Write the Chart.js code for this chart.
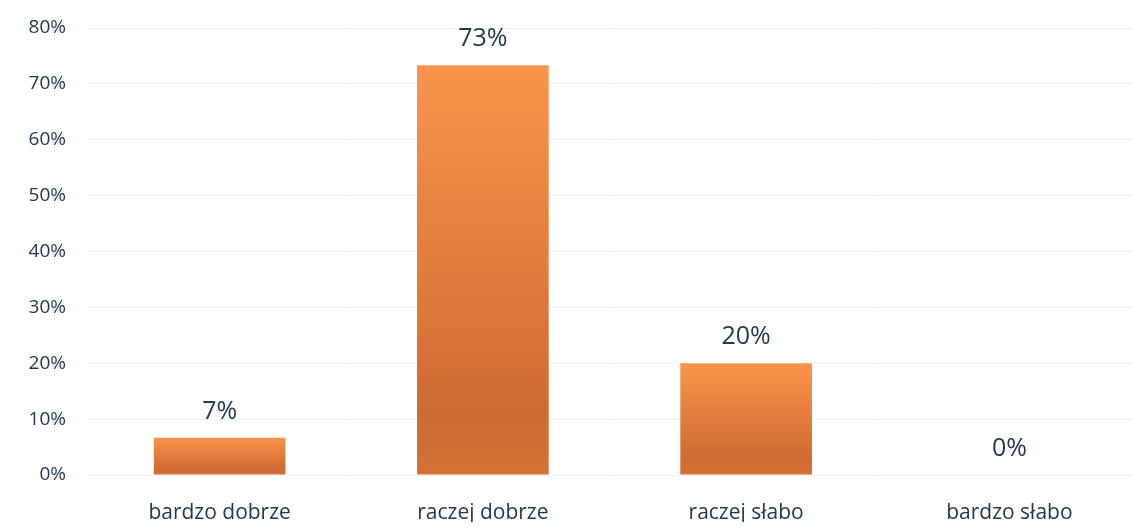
<!doctype html>
<html>

<head>
    <meta charset="utf-8">
    <title>Ocena</title>
    <script src="https://cdn.jsdelivr.net/npm/chart.js@4/dist/chart.umd.min.js"></script>
    <style>
    html, body { margin: 0; padding: 0; background: #fff; overflow: hidden; }
    </style>
</head>

<body>
    <canvas id="myChart" width="1141" height="531"></canvas>
    <script>
    // chart data
    var categories = ["bardzo dobrze", "raczej dobrze", "raczej słabo", "bardzo słabo"];
    var values = [6.67, 73.33, 20, 0];
    var valueLabels = ["7%", "73%", "20%", "0%"];
    var tickStep = 10;
    var yMax = 80;

    var textColor = '#223a52';

    // per-bar vertical gradient, light on top, darker at the bottom
    function barFill(context) {
        var chart = context.chart;
        if (!chart.chartArea) return '#f79646';
        var y = chart.scales.y;
        var v = context.raw || 0;
        var top = y.getPixelForValue(v);
        var bottom = y.getPixelForValue(0);
        if (bottom - top < 1) return '#f79646';
        var g = chart.ctx.createLinearGradient(0, top, 0, bottom);
        g.addColorStop(0, '#fa944c');
        g.addColorStop(0.5, '#e27b3c');
        g.addColorStop(0.85, '#cf6a31');
        g.addColorStop(1, '#d77236');
        return g;
    }

    // draw the percent labels above each bar
    var valueLabelPlugin = {
        id: 'valueLabels',
        afterDatasetsDraw: function(chart) {
            var ctx = chart.ctx;
            var meta = chart.getDatasetMeta(0);
            ctx.save();
            ctx.font = '25px "Open Sans", sans-serif';
            ctx.fillStyle = textColor;
            ctx.textAlign = 'center';
            ctx.textBaseline = 'middle';
            meta.data.forEach(function(bar, i) {
                ctx.fillText(valueLabels[i], bar.x, bar.y - 26);
            });
            ctx.restore();
        }
    };

    function drawGraph() {
        var ctx = document.getElementById('myChart').getContext('2d');
        var chart = new Chart(ctx, {
            type: 'bar',
            data: {
                labels: categories,
                datasets: [{
                    data: values,
                    backgroundColor: barFill,
                    borderWidth: 0,
                    barPercentage: 0.5,
                    categoryPercentage: 1.0
                }]
            },
            options: {
                responsive: false,
                animation: false,
                layout: { padding: { top: 28, bottom: 9, left: 0, right: 0 } },
                plugins: {
                    legend: { display: false },
                    tooltip: { enabled: false }
                },
                scales: {
                    x: {
                        grid: { display: false, drawTicks: false },
                        border: { display: false },
                        afterFit: function(scale) { scale.height = 47; },
                        ticks: {
                            color: textColor,
                            padding: 25,
                            font: { family: '"Open Sans", sans-serif', size: 21 }
                        }
                    },
                    y: {
                        min: 0,
                        max: yMax,
                        // fixed axis width; tick padding should not push the plot down
                        afterFit: function(scale) {
                            scale.width = 88;
                            scale.paddingTop = 0;
                            scale.paddingBottom = 0;
                        },
                        grid: { color: '#eef2f5', lineWidth: 1, drawTicks: false },
                        border: { display: false },
                        ticks: {
                            stepSize: tickStep,
                            color: textColor,
                            padding: 22,
                            font: { family: '"Open Sans", sans-serif', size: 19 },
                            callback: function(v) { return v + '%'; }
                        }
                    }
                }
            },
            plugins: [valueLabelPlugin]
        });
    }

    window.onload = function() {
        drawGraph();
    };
    </script>
</body>

</html>
